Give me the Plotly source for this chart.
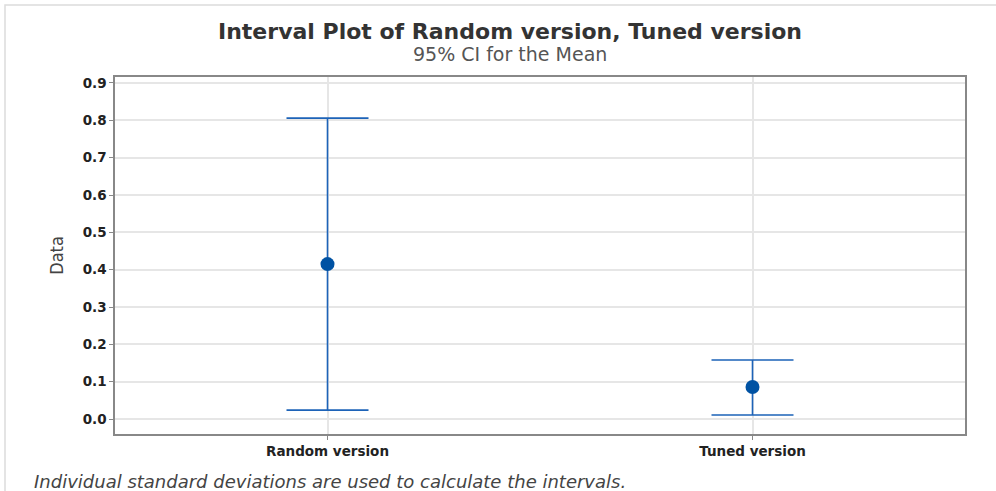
import plotly.graph_objects as go

# Interval plot data: group means with 95% CI bounds
categories = ["Random version", "Tuned version"]
means = [0.415, 0.086]
ci_upper = [0.806, 0.158]
ci_lower = [0.024, 0.011]

err_plus = [u - m for u, m in zip(ci_upper, means)]
err_minus = [m - l for m, l in zip(means, ci_lower)]

y_ticks = [round(0.1 * i, 1) for i in range(10)]

line_col = "#1d63b8"
dot_col = "#0052a3"
base_font = "DejaVu Sans, Noto Sans, sans-serif"

fig = go.Figure()
fig.add_trace(go.Scatter(
    x=categories, y=means, mode="markers",
    marker=dict(size=14, color=dot_col, symbol="circle"),
    error_y=dict(type="data", symmetric=False, array=err_plus, arrayminus=err_minus,
                 color=line_col, thickness=1.6, width=41),
    showlegend=False, hoverinfo="skip",
))

title_x = (510 - 115) / 850

fig.update_layout(
    width=996, height=491,
    margin=dict(l=115, r=31, t=77, b=57),
    paper_bgcolor="white", plot_bgcolor="white",
    font=dict(family=base_font, color="#333"),
    xaxis=dict(
        range=[-0.5, 1.5], showgrid=True, gridcolor="#e6e6e6", gridwidth=1.5,
        ticks="outside", ticklen=4, tickcolor="#888",
        tickfont=dict(size=13.5, color="#222", family=base_font, weight=600),
        showline=True, linecolor="#888", linewidth=1.5, mirror=True,
        zeroline=False,
    ),
    yaxis=dict(
        range=[-0.04, 0.916], tickvals=y_ticks, tickformat=".1f",
        showgrid=True, gridcolor="#e6e6e6", gridwidth=1.5,
        ticks="outside", ticklen=4, tickcolor="#888",
        tickfont=dict(size=13.5, color="#222", family=base_font, weight=600),
        showline=True, linecolor="#888", linewidth=1.5, mirror=True,
        zeroline=False,
        title=dict(text="Data",
                   font=dict(size=18, color="#444",
                             family="Liberation Sans Narrow, DejaVu Sans Condensed, Roboto Condensed, sans-serif"),
                   standoff=14),
    ),
    annotations=[
        dict(text="Interval Plot of Random version, Tuned version",
             xref="paper", yref="paper", x=title_x, y=1.0, yshift=46,
             xanchor="center", yanchor="middle", showarrow=False,
             font=dict(size=22, color="#333", weight=600)),
        dict(text="95% CI for the Mean",
             xref="paper", yref="paper", x=title_x, y=1.0, yshift=23,
             xanchor="center", yanchor="middle", showarrow=False,
             font=dict(size=19, color="#555")),
        dict(text="<i>Individual standard deviations are used to calculate the intervals.</i>",
             xref="paper", yref="paper", x=0, xshift=-83, y=0, yshift=-47,
             xanchor="left", yanchor="middle", showarrow=False,
             font=dict(size=18, color="#444")),
    ],
    shapes=[
        dict(type="rect", xref="paper", yref="paper",
             x0=-110 / 850, x1=1 + 40 / 850, y0=-100 / 357, y1=1 + 72 / 357,
             line=dict(color="#dcdcdc", width=1.5), fillcolor="rgba(0,0,0,0)",
             layer="below"),
    ],
)

fig.write_html("out.html")
